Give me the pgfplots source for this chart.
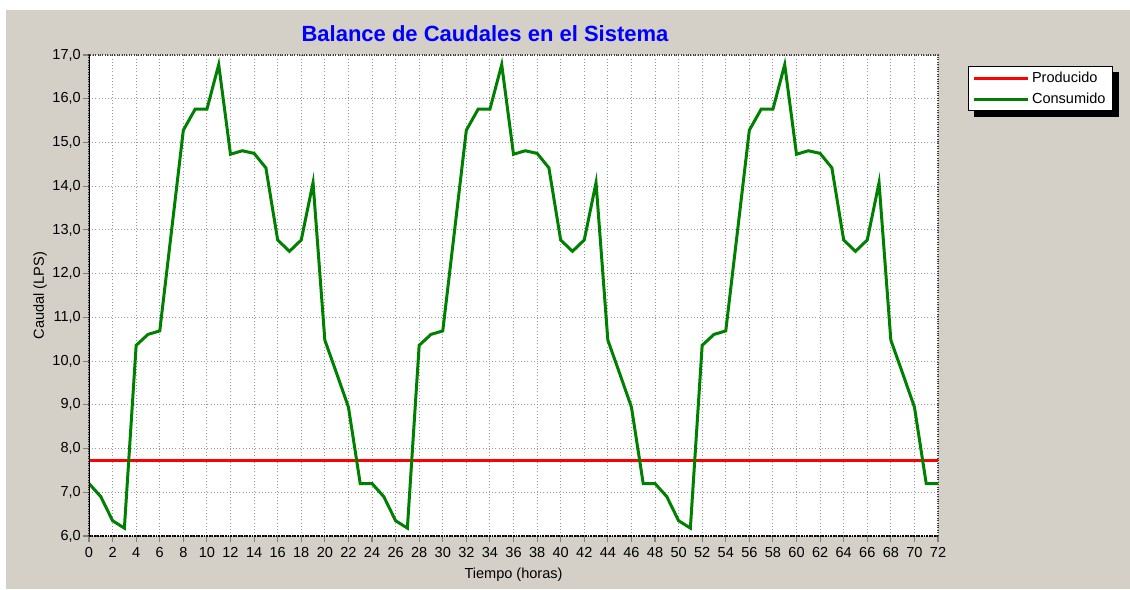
\documentclass[border=0pt]{standalone}
\usepackage{fontspec}
\setmainfont{Liberation Sans}
\usepackage{pgfplots}
\usepackage{pgfplotstable}
\pgfplotsset{compat=1.18}
\definecolor{bg}{RGB}{212,208,200}
\definecolor{cgreen}{RGB}{0,128,0}
\pgfdeclarelayer{bgzero}
\pgfdeclarelayer{bgone}
\pgfsetlayers{bgzero,bgone,main}

\pgfplotstableread{
h q
0 7.20
1 6.90
2 6.35
3 6.18
4 10.36
5 10.61
6 10.69
7 12.98
8 15.28
9 15.76
10 15.76
11 16.78
12 14.73
13 14.81
14 14.75
15 14.42
16 12.77
17 12.51
18 12.77
19 14.08
20 10.48
21 9.72
22 8.95
23 7.20
24 7.20
25 6.90
26 6.35
27 6.18
28 10.36
29 10.61
30 10.69
31 12.98
32 15.28
33 15.76
34 15.76
35 16.78
36 14.73
37 14.81
38 14.75
39 14.42
40 12.77
41 12.51
42 12.77
43 14.08
44 10.48
45 9.72
46 8.95
47 7.20
48 7.20
49 6.90
50 6.35
51 6.18
52 10.36
53 10.61
54 10.69
55 12.98
56 15.28
57 15.76
58 15.76
59 16.78
60 14.73
61 14.81
62 14.75
63 14.42
64 12.77
65 12.51
66 12.77
67 14.08
68 10.48
69 9.72
70 8.95
71 7.20
72 7.20
}\consumo

\pgfplotstableread{
h q
0 7.72
72 7.72
}\producido

\begin{document}
\begin{tikzpicture}[x=1pt,y=1pt]
\path[use as bounding box] (-66.75,-39.75) rectangle (780.75,402);
\begin{pgfonlayer}{bgzero}
\fill[white] (-66.75,-39.75) rectangle (780.75,402);
\fill[bg] (-62.25,-39.75) rectangle (780.75,394.5);
\end{pgfonlayer}
\begin{axis}[
  at={(0,0)}, anchor=south west,
  scale only axis, width=636.75pt, height=360.75pt,
  xmin=0, xmax=72, ymin=6, ymax=17,
  xtick={0,2,...,72}, ytick={6,7,...,17},
  axis background/.style={fill=white},
  axis line style={draw=black!75, densely dotted, line width=0.8pt},
  grid=major,
  grid style={gray!80, dotted, line width=0.7pt},
  tick align=outside, tick pos=left,
  major tick length=4.5pt,
  tick style={gray, line width=0.8pt},
  /pgf/number format/assume math mode=true,
  ticklabel style={font=\fontsize{10.9}{13}\selectfont, text=black},
  yticklabel={\pgfmathprintnumber[fixed,fixed zerofill,precision=1,use comma]{\tick}},
  xticklabel style={inner sep=1.5pt, yshift=-2.5pt},
  yticklabel style={inner sep=1.5pt},
  xlabel={Tiempo (horas)},
  ylabel={Caudal (LPS)},
  label style={font=\fontsize{10.9}{13}\selectfont},
  xlabel style={at={(axis description cs:0.5,-0.081)}, anchor=center},
  ylabel style={at={(axis description cs:-0.0577,0.5)}, anchor=center},
  legend style={name=leg, at={(axis description cs:1.0353,0.977)}, anchor=north west,
    draw=black, fill=white, line width=0.6pt,
    font=\fontsize{10.9}{13}\selectfont, inner xsep=3pt, inner ysep=2pt,
    row sep=2.5pt, cells={anchor=west}},
  legend image code/.code={\draw[#1] (0pt,0pt) -- (40.5pt,0pt);},
]
\addplot[red, line width=2.25pt] table[x=h, y=q] {\producido};
\addlegendentry{Producido}
\addplot[cgreen, line width=2.25pt, line join=miter] table[x=h, y=q] {\consumo};
\addlegendentry{Consumido}
\draw[black, line width=2.25pt] (rel axis cs:0,0) -- (rel axis cs:0,1);
\draw[black, line width=2.25pt, dash pattern=on 1.2pt off 0.8pt] (rel axis cs:0,0) -- (rel axis cs:1,0);
\end{axis}
\begin{pgfonlayer}{bgone}
\fill[black] ([shift={(4.5pt,-4.5pt)}]leg.south west) rectangle ([shift={(4.5pt,-4.5pt)}]leg.north east);
\end{pgfonlayer}
\node[text=blue, font=\fontsize{16.5}{19}\selectfont\bfseries] at (297,376.5) {Balance de Caudales en el Sistema};
\end{tikzpicture}
\end{document}
